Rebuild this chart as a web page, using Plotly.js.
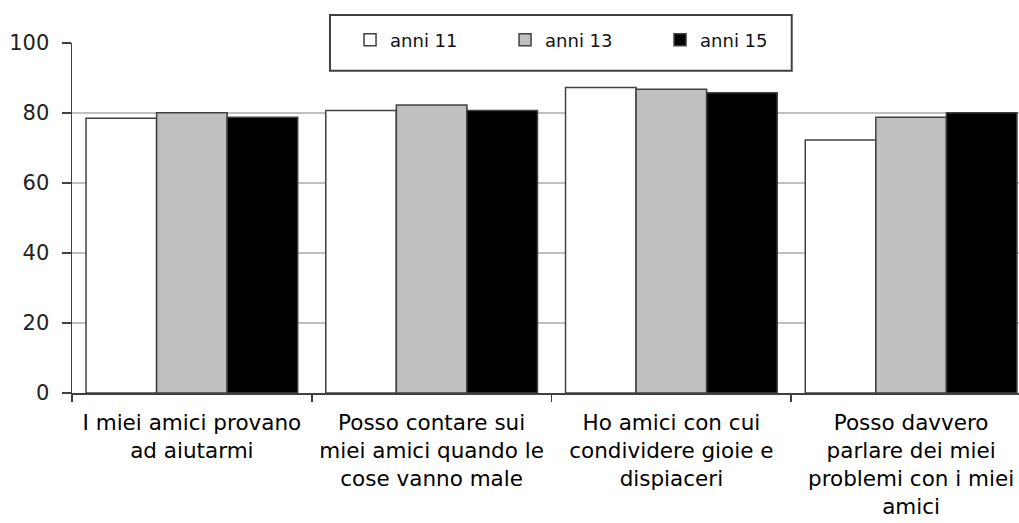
<!DOCTYPE html>
<html>
<head>
<meta charset="utf-8">
<script src="https://cdn.plot.ly/plotly-3.0.1.min.js"></script>
<style>html,body{margin:0;padding:0;background:#fff;}#chart{width:1019px;height:523px;}</style>
</head>
<body>
<div id="chart"></div>
<script>
var categories = [
  "I miei amici provano<br>ad aiutarmi",
  "Posso contare sui<br>miei amici quando le<br>cose vanno male",
  "Ho amici con cui<br>condividere gioie e<br>dispiaceri",
  "Posso davvero<br>parlare dei miei<br>problemi con i miei<br>amici"
];
var seriesNames = ["anni 11", "anni 13", "anni 15"];
var anni11 = [78.5, 80.7, 87.3, 72.3];
var anni13 = [80.1, 82.3, 86.8, 78.8];
var anni15 = [78.8, 80.7, 85.8, 80.1];
var yTicks = [0, 20, 40, 60, 80, 100];

var colors = ["#ffffff", "#c0c0c0", "#000000"];
var values = [anni11, anni13, anni15];
var traces = values.map(function (v, i) {
  return {
    type: "bar",
    name: seriesNames[i],
    x: categories,
    y: v,
    marker: { color: colors[i], line: { color: "#404040", width: 1.5 } }
  };
});

var layout = {
  width: 1019, height: 523,
  margin: { l: 72, r: 0, t: 43, b: 130 },
  paper_bgcolor: "#fff", plot_bgcolor: "#fff",
  barmode: "group", bargap: 0.117, bargroupgap: 0,
  font: { family: "DejaVu Sans, sans-serif", color: "#000" },
  xaxis: {
    type: "category",
    range: [-0.5, 3.45],
    tickson: "boundaries",
    ticks: "outside", ticklen: 7, tickwidth: 1.5, tickcolor: "#404040",
    showline: true, linecolor: "#404040", linewidth: 1.5,
    showgrid: false, zeroline: false,
    ticklabelstandoff: 10,
    tickfont: { size: 21.5, family: "DejaVu Sans, sans-serif", color: "#000" },
    fixedrange: true
  },
  yaxis: {
    range: [0, 100],
    tickvals: yTicks,
    ticktext: yTicks.map(String),
    ticks: "outside", ticklen: 9, tickwidth: 1.5, tickcolor: "#404040",
    showline: true, linecolor: "#404040", linewidth: 1.5,
    showgrid: true, gridcolor: "#c0c0c0", gridwidth: 1.5,
    zeroline: false,
    ticklabelstandoff: 8,
    tickfont: { size: 21, family: "DejaVu Sans, sans-serif", color: "#222" },
    fixedrange: true
  },
  showlegend: true,
  legend: {
    orientation: "h",
    x: 0.2936, xanchor: "left",
    y: 1.0086, yanchor: "middle",
    bgcolor: "rgba(0,0,0,0)", borderwidth: 0,
    entrywidth: 110,
    font: { size: 18, family: "DejaVu Sans, sans-serif", color: "#111" },
    traceorder: "normal"
  },
  shapes: [{
    type: "rect", xref: "paper", yref: "paper",
    x0: 0.2724, x1: 0.760, y0: 0.9209, y1: 1.08,
    fillcolor: "#fff", line: { color: "#404040", width: 2 }, layer: "above"
  }]
};

Plotly.newPlot("chart", traces, layout, { displayModeBar: false, staticPlot: true });
</script>
</body>
</html>
